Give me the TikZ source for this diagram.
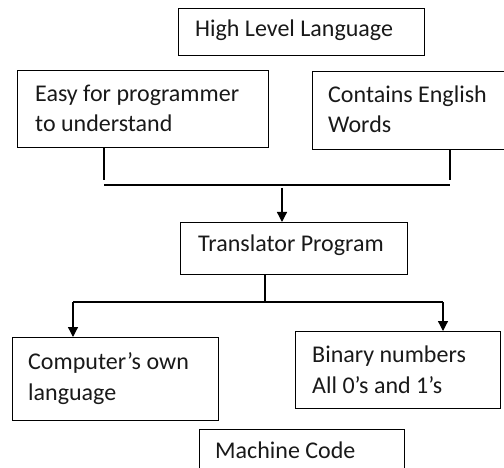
\documentclass[tikz,border=0pt]{standalone}
\usepackage{fontspec}
\setmainfont{Carlito}
\usetikzlibrary{arrows.meta}
\begin{document}
\begin{tikzpicture}[x=1pt,y=-1pt,
  box/.style={draw=black, line width=1.3pt, anchor=north west, inner sep=0pt},
  txt/.style={anchor=base west, inner sep=0pt, font=\fontsize{24}{30.5}\selectfont, text=black!90, align=left},
  wire/.style={draw=black, line width=1.3pt},
  arr/.style={wire, -{Triangle[width=10pt,length=10pt]}}]
\useasboundingbox (0,0) rectangle (504,468);

% boxes
\node[box, minimum width=246pt, minimum height=47pt] (hll) at (178,8) {};
\node[box, minimum width=251pt, minimum height=77pt] (easy) at (17,70) {};
\node[box, minimum width=196pt, minimum height=78pt] (eng) at (312,71) {};
\node[box, minimum width=227pt, minimum height=52pt] (trans) at (180,222) {};
\node[box, minimum width=206pt, minimum height=83pt] (own) at (12,337) {};
\node[box, minimum width=205pt, minimum height=77pt] (bin) at (295,331) {};
\node[box, minimum width=205pt, minimum height=60pt] (mc) at (199,429) {};

% box texts (anchored at the baseline of the last line)
\node[txt] (hll-t) at (195,37) {High Level Language};
\node[txt] (easy-t) at (35,132) {Easy for programmer\\to understand};
\node[txt] (eng-t) at (328,133) {Contains English\\Words};
\node[txt] (trans-t) at (198,252) {Translator Program};
\node[txt] (own-t) at (28,400) {Computer’s own\\language};
\node[txt] (bin-t) at (312,393) {Binary numbers\\All 0’s and 1’s};
\node[txt] (mc-t) at (215,458) {Machine Code};

% joining lines
\coordinate (jl) at (104,185);
\coordinate (jr) at (450,185);
\coordinate (jm) at (282,185);
\draw[wire] (easy.south -| jl) -- ([yshift=5pt]jl);
\draw[wire] (eng.south -| jr) -- ([yshift=5pt]jr);
\draw[wire] (jl) -- (jr);
\draw[arr] ([yshift=-3pt]jm) -- (trans.north -| jm);

\coordinate (sm) at (265,302);
\coordinate (sl) at (73,302);
\coordinate (sr) at (443,302);
\draw[wire] (trans.south -| sm) -- (sm);
\draw[wire] (sl) -- (sr);
\draw[arr] (sl) -- (own.north -| sl);
\draw[arr] (sr) -- (bin.north -| sr);
\end{tikzpicture}
\end{document}
